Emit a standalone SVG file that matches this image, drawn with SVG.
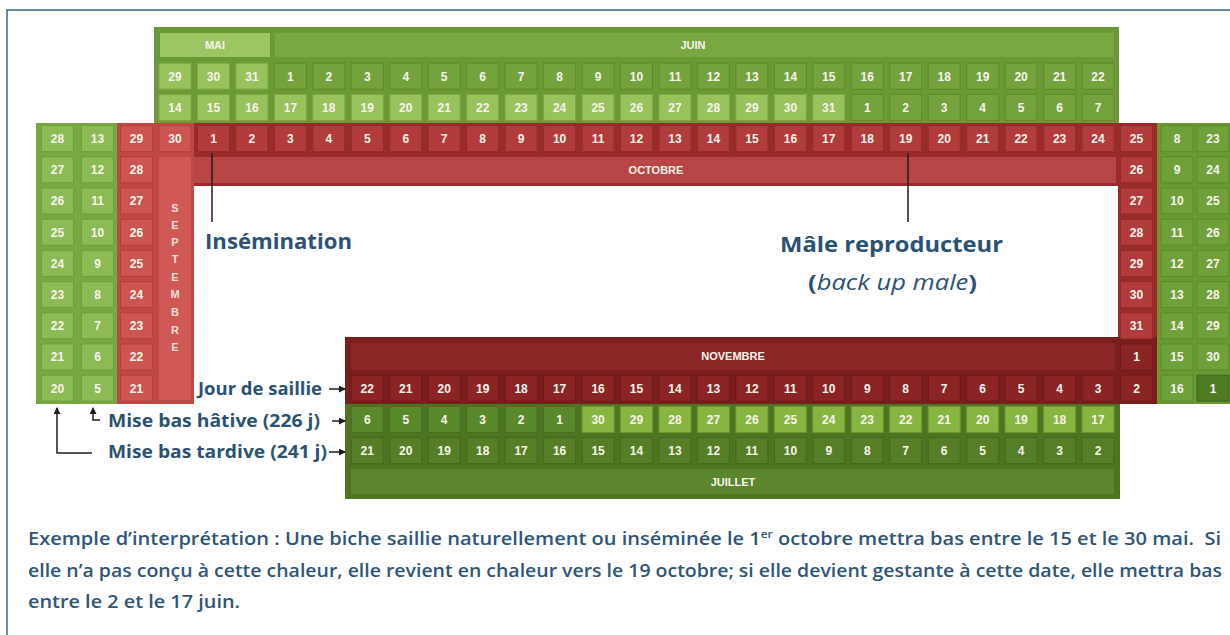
<svg xmlns="http://www.w3.org/2000/svg" width="1230" height="635" viewBox="0 0 1230 635">
<style>
.t{font-family:"Liberation Sans",Arial,sans-serif;font-weight:bold;font-size:12px;fill:#f7f4ec;text-anchor:middle}
.mh{font-size:11px}
.c rect{width:32px;height:26px}
.gm{fill:#97c25c;stroke:#7aa843;stroke-width:1}
.gj{fill:#74a23c;stroke:#5f8b2e;stroke-width:1}
.gl{fill:#8cba54;stroke:#6f9f3a;stroke-width:1}
.gr{fill:#70a03a;stroke:#5d8a2d;stroke-width:1}
.gd{fill:#4f7b23;stroke:#40661b;stroke-width:1}
.rs{fill:#cd5551;stroke:#b2403d;stroke-width:1}
.ro{fill:#b23b3b;stroke:#962a2a;stroke-width:1}
.rn{fill:#8b2424;stroke:#701a1a;stroke-width:1}
.bh{fill:#5a892b;stroke:#466f1f;stroke-width:1}
.bl{fill:#86b641;stroke:#6a9a31;stroke-width:1}
.bt{fill:#557e27;stroke:#44691d;stroke-width:1}
.lbl{font-family:"Open Sans","Noto Sans",sans-serif;font-weight:700;fill:#2b5273}
.para{font-family:"Open Sans","Noto Sans",sans-serif;font-weight:600;font-size:18.5px;fill:#2f5676}
.ln{stroke:#1e1e1e;stroke-width:1.5;fill:none}
</style>
<defs>
<marker id="ah" markerWidth="7" markerHeight="7" refX="6" refY="3.5" orient="auto" markerUnits="userSpaceOnUse"><path d="M0,0 L7,3.5 L0,7 z" fill="#1e1e1e"/></marker>
</defs>
<rect width="1230" height="635" fill="#ffffff"/>
<path d="M7,635 V10 H1230" fill="none" stroke="#3e6586" stroke-width="1.5"/>

<!-- containers -->
<g id="containers">
<rect x="154" y="27" width="965" height="97" fill="#6b9935"/>
<rect x="160" y="33" width="110" height="24" fill="#9cc663"/>
<rect x="275" y="33" width="839" height="24" fill="#79a842"/>
<rect x="36" y="123" width="82" height="281" fill="#78a842"/>
<rect x="117" y="123" width="77" height="281" fill="#bf4845"/>
<rect x="194" y="123" width="963" height="63" fill="#9a2b2b"/>
<rect x="1118" y="123" width="39" height="214" fill="#9a2b2b"/>
<rect x="345" y="337" width="812" height="67" fill="#7a1d1d"/>
<rect x="345" y="404" width="775" height="95" fill="#4c7421"/>
<rect x="1157" y="123" width="73" height="281" fill="#6a9934"/>
<rect x="194" y="157" width="922" height="26" fill="#b94646"/>
<rect x="159" y="157" width="32" height="243" fill="#d05955"/>
<rect x="351" y="343" width="764" height="27" fill="#8b2727"/>
<rect x="351" y="469" width="763" height="25" fill="#5b862e"/>
</g>

<g id="month-labels" class="t mh">
<text x="215" y="49">MAI</text>
<text x="693" y="49">JUIN</text>
<text x="656" y="174">OCTOBRE</text>
<text x="733" y="360">NOVEMBRE</text>
<text x="733" y="486">JUILLET</text>
<g fill="#f6dede">
<text x="175" y="212">S</text><text x="175" y="229">E</text><text x="175" y="246">P</text><text x="175" y="263">T</text><text x="175" y="281">E</text><text x="175" y="298">M</text><text x="175" y="316">B</text><text x="175" y="334">R</text><text x="175" y="351">E</text>
</g>
</g>

<!-- Row 1 -->
<g id="row-mai-juin-1" class="c" transform="translate(0,76.2)">
<rect class="gm" x="159" y="-13"/><rect class="gm" x="197.5" y="-13"/><rect class="gm" x="235.9" y="-13"/>
<rect class="gj" x="274.4" y="-13"/><rect class="gj" x="312.8" y="-13"/><rect class="gj" x="351.3" y="-13"/><rect class="gj" x="389.8" y="-13"/><rect class="gj" x="428.2" y="-13"/><rect class="gj" x="466.7" y="-13"/><rect class="gj" x="505.1" y="-13"/><rect class="gj" x="543.6" y="-13"/><rect class="gj" x="582.1" y="-13"/><rect class="gj" x="620.5" y="-13"/><rect class="gj" x="659" y="-13"/><rect class="gj" x="697.4" y="-13"/><rect class="gj" x="735.9" y="-13"/><rect class="gj" x="774.4" y="-13"/><rect class="gj" x="812.8" y="-13"/><rect class="gj" x="851.3" y="-13"/><rect class="gj" x="889.7" y="-13"/><rect class="gj" x="928.2" y="-13"/><rect class="gj" x="966.7" y="-13"/><rect class="gj" x="1005.1" y="-13"/><rect class="gj" x="1043.6" y="-13"/><rect class="gj" x="1082" y="-13"/>
<g class="t">
<text x="175" y="4.3">29</text><text x="213.5" y="4.3">30</text><text x="251.9" y="4.3">31</text><text x="290.4" y="4.3">1</text><text x="328.8" y="4.3">2</text><text x="367.3" y="4.3">3</text><text x="405.8" y="4.3">4</text><text x="444.2" y="4.3">5</text><text x="482.7" y="4.3">6</text><text x="521.1" y="4.3">7</text><text x="559.6" y="4.3">8</text><text x="598.1" y="4.3">9</text><text x="636.5" y="4.3">10</text><text x="675" y="4.3">11</text><text x="713.4" y="4.3">12</text><text x="751.9" y="4.3">13</text><text x="790.4" y="4.3">14</text><text x="828.8" y="4.3">15</text><text x="867.3" y="4.3">16</text><text x="905.7" y="4.3">17</text><text x="944.2" y="4.3">18</text><text x="982.7" y="4.3">19</text><text x="1021.1" y="4.3">20</text><text x="1059.6" y="4.3">21</text><text x="1098" y="4.3">22</text>
</g>
</g>

<!-- Row 2 -->
<g id="row-mai-juin-2" class="c" transform="translate(0,107.4)">
<rect class="gm" x="159" y="-13"/><rect class="gm" x="197.5" y="-13"/><rect class="gm" x="235.9" y="-13"/><rect class="gm" x="274.4" y="-13"/><rect class="gm" x="312.8" y="-13"/><rect class="gm" x="351.3" y="-13"/><rect class="gm" x="389.8" y="-13"/><rect class="gm" x="428.2" y="-13"/><rect class="gm" x="466.7" y="-13"/><rect class="gm" x="505.1" y="-13"/><rect class="gm" x="543.6" y="-13"/><rect class="gm" x="582.1" y="-13"/><rect class="gm" x="620.5" y="-13"/><rect class="gm" x="659" y="-13"/><rect class="gm" x="697.4" y="-13"/><rect class="gm" x="735.9" y="-13"/><rect class="gm" x="774.4" y="-13"/><rect class="gm" x="812.8" y="-13"/>
<rect class="gj" x="851.3" y="-13"/><rect class="gj" x="889.7" y="-13"/><rect class="gj" x="928.2" y="-13"/><rect class="gj" x="966.7" y="-13"/><rect class="gj" x="1005.1" y="-13"/><rect class="gj" x="1043.6" y="-13"/><rect class="gj" x="1082" y="-13"/>
<g class="t">
<text x="175" y="4.3">14</text><text x="213.5" y="4.3">15</text><text x="251.9" y="4.3">16</text><text x="290.4" y="4.3">17</text><text x="328.8" y="4.3">18</text><text x="367.3" y="4.3">19</text><text x="405.8" y="4.3">20</text><text x="444.2" y="4.3">21</text><text x="482.7" y="4.3">22</text><text x="521.1" y="4.3">23</text><text x="559.6" y="4.3">24</text><text x="598.1" y="4.3">25</text><text x="636.5" y="4.3">26</text><text x="675" y="4.3">27</text><text x="713.4" y="4.3">28</text><text x="751.9" y="4.3">29</text><text x="790.4" y="4.3">30</text><text x="828.8" y="4.3">31</text><text x="867.3" y="4.3">1</text><text x="905.7" y="4.3">2</text><text x="944.2" y="4.3">3</text><text x="982.7" y="4.3">4</text><text x="1021.1" y="4.3">5</text><text x="1059.6" y="4.3">6</text><text x="1098" y="4.3">7</text>
</g>
</g>

<!-- Red row October -->
<g id="row-octobre" class="c" transform="translate(0,138.6)">
<rect class="rs" x="159" y="-13"/>
<rect class="ro" x="197.5" y="-13"/><rect class="ro" x="235.9" y="-13"/><rect class="ro" x="274.4" y="-13"/><rect class="ro" x="312.8" y="-13"/><rect class="ro" x="351.3" y="-13"/><rect class="ro" x="389.8" y="-13"/><rect class="ro" x="428.2" y="-13"/><rect class="ro" x="466.7" y="-13"/><rect class="ro" x="505.1" y="-13"/><rect class="ro" x="543.6" y="-13"/><rect class="ro" x="582.1" y="-13"/><rect class="ro" x="620.5" y="-13"/><rect class="ro" x="659" y="-13"/><rect class="ro" x="697.4" y="-13"/><rect class="ro" x="735.9" y="-13"/><rect class="ro" x="774.4" y="-13"/><rect class="ro" x="812.8" y="-13"/><rect class="ro" x="851.3" y="-13"/><rect class="ro" x="889.7" y="-13"/><rect class="ro" x="928.2" y="-13"/><rect class="ro" x="966.7" y="-13"/><rect class="ro" x="1005.1" y="-13"/><rect class="ro" x="1043.6" y="-13"/><rect class="ro" x="1082" y="-13"/>
<g class="t">
<text x="175" y="4.3">30</text><text x="213.5" y="4.3">1</text><text x="251.9" y="4.3">2</text><text x="290.4" y="4.3">3</text><text x="328.8" y="4.3">4</text><text x="367.3" y="4.3">5</text><text x="405.8" y="4.3">6</text><text x="444.2" y="4.3">7</text><text x="482.7" y="4.3">8</text><text x="521.1" y="4.3">9</text><text x="559.6" y="4.3">10</text><text x="598.1" y="4.3">11</text><text x="636.5" y="4.3">12</text><text x="675" y="4.3">13</text><text x="713.4" y="4.3">14</text><text x="751.9" y="4.3">15</text><text x="790.4" y="4.3">16</text><text x="828.8" y="4.3">17</text><text x="867.3" y="4.3">18</text><text x="905.7" y="4.3">19</text><text x="944.2" y="4.3">20</text><text x="982.7" y="4.3">21</text><text x="1021.1" y="4.3">22</text><text x="1059.6" y="4.3">23</text><text x="1098" y="4.3">24</text>
</g>
</g>

<!-- Right red column -->
<g id="col-right-red" class="c">
<rect class="ro" x="1120.5" y="125.6"/><rect class="ro" x="1120.5" y="156.8"/><rect class="ro" x="1120.5" y="188"/><rect class="ro" x="1120.5" y="219.2"/><rect class="ro" x="1120.5" y="250.4"/><rect class="ro" x="1120.5" y="281.6"/><rect class="ro" x="1120.5" y="312.8"/>
<rect class="rn" x="1120.5" y="344"/><rect class="rn" x="1120.5" y="375.2"/>
<g class="t">
<text x="1136.5" y="142.9">25</text><text x="1136.5" y="174.1">26</text><text x="1136.5" y="205.3">27</text><text x="1136.5" y="236.5">28</text><text x="1136.5" y="267.7">29</text><text x="1136.5" y="298.9">30</text><text x="1136.5" y="330.1">31</text><text x="1136.5" y="361.3">1</text><text x="1136.5" y="392.5">2</text>
</g>
</g>

<!-- Right green columns -->
<g id="col-right-green" class="c">
<rect class="gr" x="1161" y="125.6"/><rect class="gr" x="1161" y="156.8"/><rect class="gr" x="1161" y="188"/><rect class="gr" x="1161" y="219.2"/><rect class="gr" x="1161" y="250.4"/><rect class="gr" x="1161" y="281.6"/><rect class="gr" x="1161" y="312.8"/><rect class="gr" x="1161" y="344"/><rect class="gr" x="1161" y="375.2"/>
<rect class="gr" x="1197" y="125.6"/><rect class="gr" x="1197" y="156.8"/><rect class="gr" x="1197" y="188"/><rect class="gr" x="1197" y="219.2"/><rect class="gr" x="1197" y="250.4"/><rect class="gr" x="1197" y="281.6"/><rect class="gr" x="1197" y="312.8"/><rect class="gr" x="1197" y="344"/><rect class="gd" x="1197" y="375.2"/>
<g class="t">
<text x="1177" y="142.9">8</text><text x="1177" y="174.1">9</text><text x="1177" y="205.3">10</text><text x="1177" y="236.5">11</text><text x="1177" y="267.7">12</text><text x="1177" y="298.9">13</text><text x="1177" y="330.1">14</text><text x="1177" y="361.3">15</text><text x="1177" y="392.5">16</text>
<text x="1213" y="142.9">23</text><text x="1213" y="174.1">24</text><text x="1213" y="205.3">25</text><text x="1213" y="236.5">26</text><text x="1213" y="267.7">27</text><text x="1213" y="298.9">28</text><text x="1213" y="330.1">29</text><text x="1213" y="361.3">30</text><text x="1213" y="392.5">1</text>
</g>
</g>

<!-- Left columns -->
<g id="col-left" class="c">
<rect class="gl" x="41.5" y="125.6"/><rect class="gl" x="41.5" y="156.8"/><rect class="gl" x="41.5" y="188"/><rect class="gl" x="41.5" y="219.2"/><rect class="gl" x="41.5" y="250.4"/><rect class="gl" x="41.5" y="281.6"/><rect class="gl" x="41.5" y="312.8"/><rect class="gl" x="41.5" y="344"/><rect class="gl" x="41.5" y="375.2"/>
<rect class="gl" x="81.5" y="125.6"/><rect class="gl" x="81.5" y="156.8"/><rect class="gl" x="81.5" y="188"/><rect class="gl" x="81.5" y="219.2"/><rect class="gl" x="81.5" y="250.4"/><rect class="gl" x="81.5" y="281.6"/><rect class="gl" x="81.5" y="312.8"/><rect class="gl" x="81.5" y="344"/><rect class="gl" x="81.5" y="375.2"/>
<rect class="rs" x="120.5" y="125.6"/><rect class="rs" x="120.5" y="156.8"/><rect class="rs" x="120.5" y="188"/><rect class="rs" x="120.5" y="219.2"/><rect class="rs" x="120.5" y="250.4"/><rect class="rs" x="120.5" y="281.6"/><rect class="rs" x="120.5" y="312.8"/><rect class="rs" x="120.5" y="344"/><rect class="rs" x="120.5" y="375.2"/>
<g class="t">
<text x="57.5" y="142.9">28</text><text x="57.5" y="174.1">27</text><text x="57.5" y="205.3">26</text><text x="57.5" y="236.5">25</text><text x="57.5" y="267.7">24</text><text x="57.5" y="298.9">23</text><text x="57.5" y="330.1">22</text><text x="57.5" y="361.3">21</text><text x="57.5" y="392.5">20</text>
<text x="97.5" y="142.9">13</text><text x="97.5" y="174.1">12</text><text x="97.5" y="205.3">11</text><text x="97.5" y="236.5">10</text><text x="97.5" y="267.7">9</text><text x="97.5" y="298.9">8</text><text x="97.5" y="330.1">7</text><text x="97.5" y="361.3">6</text><text x="97.5" y="392.5">5</text>
<text x="136.5" y="142.9">29</text><text x="136.5" y="174.1">28</text><text x="136.5" y="205.3">27</text><text x="136.5" y="236.5">26</text><text x="136.5" y="267.7">25</text><text x="136.5" y="298.9">24</text><text x="136.5" y="330.1">23</text><text x="136.5" y="361.3">22</text><text x="136.5" y="392.5">21</text>
</g>
</g>

<!-- Saillie row -->
<g id="row-saillie" class="c" transform="translate(0,388.2)">
<rect class="rn" x="351.3" y="-13"/><rect class="rn" x="389.8" y="-13"/><rect class="rn" x="428.2" y="-13"/><rect class="rn" x="466.7" y="-13"/><rect class="rn" x="505.1" y="-13"/><rect class="rn" x="543.6" y="-13"/><rect class="rn" x="582.1" y="-13"/><rect class="rn" x="620.5" y="-13"/><rect class="rn" x="659" y="-13"/><rect class="rn" x="697.4" y="-13"/><rect class="rn" x="735.9" y="-13"/><rect class="rn" x="774.4" y="-13"/><rect class="rn" x="812.8" y="-13"/><rect class="rn" x="851.3" y="-13"/><rect class="rn" x="889.7" y="-13"/><rect class="rn" x="928.2" y="-13"/><rect class="rn" x="966.7" y="-13"/><rect class="rn" x="1005.1" y="-13"/><rect class="rn" x="1043.6" y="-13"/><rect class="rn" x="1082" y="-13"/>
<g class="t">
<text x="367.3" y="4.3">22</text><text x="405.8" y="4.3">21</text><text x="444.2" y="4.3">20</text><text x="482.7" y="4.3">19</text><text x="521.1" y="4.3">18</text><text x="559.6" y="4.3">17</text><text x="598.1" y="4.3">16</text><text x="636.5" y="4.3">15</text><text x="675" y="4.3">14</text><text x="713.4" y="4.3">13</text><text x="751.9" y="4.3">12</text><text x="790.4" y="4.3">11</text><text x="828.8" y="4.3">10</text><text x="867.3" y="4.3">9</text><text x="905.7" y="4.3">8</text><text x="944.2" y="4.3">7</text><text x="982.7" y="4.3">6</text><text x="1021.1" y="4.3">5</text><text x="1059.6" y="4.3">4</text><text x="1098" y="4.3">3</text>
</g>
</g>

<!-- Hative row -->
<g id="row-hative" class="c" transform="translate(0,419.4)">
<rect class="bh" x="351.3" y="-13"/><rect class="bh" x="389.8" y="-13"/><rect class="bh" x="428.2" y="-13"/><rect class="bh" x="466.7" y="-13"/><rect class="bh" x="505.1" y="-13"/><rect class="bh" x="543.6" y="-13"/>
<rect class="bl" x="582.1" y="-13"/><rect class="bl" x="620.5" y="-13"/><rect class="bl" x="659" y="-13"/><rect class="bl" x="697.4" y="-13"/><rect class="bl" x="735.9" y="-13"/><rect class="bl" x="774.4" y="-13"/><rect class="bl" x="812.8" y="-13"/><rect class="bl" x="851.3" y="-13"/><rect class="bl" x="889.7" y="-13"/><rect class="bl" x="928.2" y="-13"/><rect class="bl" x="966.7" y="-13"/><rect class="bl" x="1005.1" y="-13"/><rect class="bl" x="1043.6" y="-13"/><rect class="bl" x="1082" y="-13"/>
<g class="t">
<text x="367.3" y="4.3">6</text><text x="405.8" y="4.3">5</text><text x="444.2" y="4.3">4</text><text x="482.7" y="4.3">3</text><text x="521.1" y="4.3">2</text><text x="559.6" y="4.3">1</text><text x="598.1" y="4.3">30</text><text x="636.5" y="4.3">29</text><text x="675" y="4.3">28</text><text x="713.4" y="4.3">27</text><text x="751.9" y="4.3">26</text><text x="790.4" y="4.3">25</text><text x="828.8" y="4.3">24</text><text x="867.3" y="4.3">23</text><text x="905.7" y="4.3">22</text><text x="944.2" y="4.3">21</text><text x="982.7" y="4.3">20</text><text x="1021.1" y="4.3">19</text><text x="1059.6" y="4.3">18</text><text x="1098" y="4.3">17</text>
</g>
</g>

<!-- Tardive row -->
<g id="row-tardive" class="c" transform="translate(0,450.6)">
<rect class="bt" x="351.3" y="-13"/><rect class="bt" x="389.8" y="-13"/><rect class="bt" x="428.2" y="-13"/><rect class="bt" x="466.7" y="-13"/><rect class="bt" x="505.1" y="-13"/><rect class="bt" x="543.6" y="-13"/><rect class="bt" x="582.1" y="-13"/><rect class="bt" x="620.5" y="-13"/><rect class="bt" x="659" y="-13"/><rect class="bt" x="697.4" y="-13"/><rect class="bt" x="735.9" y="-13"/><rect class="bt" x="774.4" y="-13"/><rect class="bt" x="812.8" y="-13"/><rect class="bt" x="851.3" y="-13"/><rect class="bt" x="889.7" y="-13"/><rect class="bt" x="928.2" y="-13"/><rect class="bt" x="966.7" y="-13"/><rect class="bt" x="1005.1" y="-13"/><rect class="bt" x="1043.6" y="-13"/><rect class="bt" x="1082" y="-13"/>
<g class="t">
<text x="367.3" y="4.3">21</text><text x="405.8" y="4.3">20</text><text x="444.2" y="4.3">19</text><text x="482.7" y="4.3">18</text><text x="521.1" y="4.3">17</text><text x="559.6" y="4.3">16</text><text x="598.1" y="4.3">15</text><text x="636.5" y="4.3">14</text><text x="675" y="4.3">13</text><text x="713.4" y="4.3">12</text><text x="751.9" y="4.3">11</text><text x="790.4" y="4.3">10</text><text x="828.8" y="4.3">9</text><text x="867.3" y="4.3">8</text><text x="905.7" y="4.3">7</text><text x="944.2" y="4.3">6</text><text x="982.7" y="4.3">5</text><text x="1021.1" y="4.3">4</text><text x="1059.6" y="4.3">3</text><text x="1098" y="4.3">2</text>
</g>
</g>

<!-- connectors -->
<g id="connectors">
<line class="ln" x1="212" y1="153" x2="212" y2="222"/>
<line class="ln" x1="908" y1="153" x2="908" y2="222"/>
<line class="ln" x1="329" y1="389" x2="345" y2="389" marker-end="url(#ah)"/>
<line class="ln" x1="332" y1="421" x2="345" y2="421" marker-end="url(#ah)"/>
<line class="ln" x1="329" y1="452" x2="345" y2="452" marker-end="url(#ah)"/>
<path class="ln" d="M92,453 H57 V408" marker-end="url(#ah)"/>
<path class="ln" d="M100,420 H93 V408" marker-end="url(#ah)"/>
</g>

<g id="labels" class="lbl">
<text x="205" y="249" font-size="22" textLength="147" lengthAdjust="spacingAndGlyphs">Insémination</text>
<text x="780" y="252" font-size="22" textLength="223" lengthAdjust="spacingAndGlyphs">Mâle reproducteur</text>
<text x="808" y="290" font-size="22" textLength="169" lengthAdjust="spacingAndGlyphs">(<tspan font-style="italic" font-weight="400">back up male</tspan>)</text>
<text x="322" y="395" font-size="18" text-anchor="end" textLength="124" lengthAdjust="spacingAndGlyphs">Jour de saillie</text>
<text x="108" y="427" font-size="18" textLength="212" lengthAdjust="spacingAndGlyphs">Mise bas hâtive (226 j)</text>
<text x="108" y="458" font-size="18" textLength="219" lengthAdjust="spacingAndGlyphs">Mise bas tardive (241 j)</text>
</g>

<g id="paragraph" class="para">
<text x="28" y="545" textLength="1193" lengthAdjust="spacingAndGlyphs">Exemple d’interprétation : Une biche saillie naturellement ou inséminée le 1<tspan font-size="11" dy="-7">er</tspan><tspan dy="7"> octobre mettra bas entre le 15 et le 30 mai.&#160; Si</tspan></text>
<text x="28" y="577" textLength="1194" lengthAdjust="spacingAndGlyphs">elle n’a pas conçu à cette chaleur, elle revient en chaleur vers le 19 octobre; si elle devient gestante à cette date, elle mettra bas</text>
<text x="28" y="608" textLength="212" lengthAdjust="spacingAndGlyphs">entre le 2 et le 17 juin.</text>
</g>
</svg>
